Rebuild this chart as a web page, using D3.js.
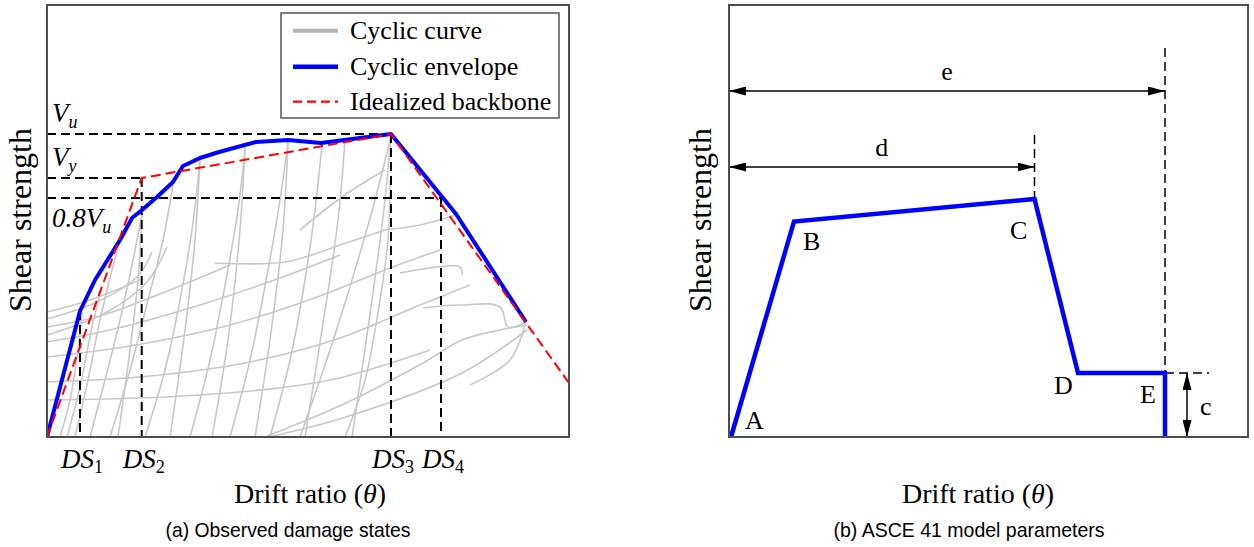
<!DOCTYPE html>
<html><head><meta charset="utf-8">
<script src="https://cdn.jsdelivr.net/npm/d3@7"></script>
<style>body{margin:0;background:#fff} svg{display:block}</style>
</head><body>
<svg id="c" width="1254" height="547"></svg>
<script>
// ---------- DATA (drift ratio in %, shear strength in kN) ----------
const envelope = [[0,0],[0.33,126],[0.48,157],[0.73,197],[0.85,219],[0.95,227],[1.10,240],[1.26,255],[1.36,271],[1.53,279],[1.72,285],[2.09,295],[2.41,297],[2.74,294],[3.44,303],[4.09,223],[4.79,115]];
const backbone = [[0,0],[0.947,259],[3.44,303],[5.22,54]];
const dsNames = ["1","2","3","4"];
const dsDrift = [0.33,0.947,3.44,3.94];
const dsShear = [126,259,303,239];
const levelNames = ["u","y","u"];
const levelPrefix = ["V","V","0.8V"];
const levelValues = [303,259,239];
const levelEnds = [3.44,0.947,3.94];
const cyclicCurves = [
  [[0,55],[1.03,61],[2.03,75],[2.93,99],[3.73,132],[4.23,152]],
  [[0,80],[0.83,91],[1.83,112],[2.73,141],[3.43,169],[3.93,187]],
  [[0,95],[0.63,107],[1.53,132],[2.33,159],[2.93,182]],
  [[0,110],[0.53,121],[1.23,147],[1.83,172]],
  [[0,125],[0.43,137],[0.93,157]],
  [[0,118],[0.5,135],[0.9,160],[1.05,185]],
  [[0,102],[0.6,125],[1.0,155],[1.2,190]],
  [[0,37],[1.53,42],[2.83,57],[3.83,87]],
  [[0.13,0],[0.23,37],[0.31,87],[0.35,125]],
  [[0.2,0],[0.33,50],[0.45,110],[0.55,150]],
  [[0.28,0],[0.41,57],[0.53,117],[0.65,167],[0.73,197]],
  [[0.43,0],[0.58,57],[0.73,117],[0.86,177],[0.95,222]],
  [[0.63,0],[0.83,67],[1.01,137],[1.16,197],[1.26,252]],
  [[0.98,0],[1.18,67],[1.33,137],[1.45,207],[1.53,277]],
  [[1.43,0],[1.63,77],[1.79,157],[1.91,227],[1.98,287]],
  [[1.83,0],[2.03,77],[2.21,167],[2.33,237],[2.41,295]],
  [[2.23,0],[2.43,77],[2.58,157],[2.68,227],[2.75,292]],
  [[2.53,0],[2.83,87],[3.08,167],[3.28,237],[3.44,301]],
  [[2.98,0],[3.18,57],[3.33,137],[3.41,197],[3.43,257]],
  [[0.95,227],[0.91,157],[0.83,87],[0.71,0]],
  [[1.53,279],[1.48,197],[1.38,107],[1.23,0]],
  [[1.98,292],[1.93,207],[1.81,97],[1.65,0]],
  [[2.41,295],[2.36,207],[2.23,97],[2.08,0]],
  [[2.98,297],[2.91,217],[2.75,107],[2.58,0]],
  [[3.44,303],[3.38,237],[3.25,137],[3.05,0]],
  [[2.18,0],[2.99,34],[3.76,74],[4.15,97],[4.53,107],[4.80,112]],
  [[4.80,107],[4.15,64],[2.99,20],[2.22,0]],
  [[3.38,207],[3.73,212],[4.09,222]],
  [[1.68,174],[2.38,175],[2.99,194],[3.38,207]],
  [[3.38,267],[3.13,252],[2.88,235],[2.53,207]],
  [[3.53,164],[4.13,170],[4.15,162]],
  [[3.76,129],[4.13,132],[4.53,130],[4.61,110],[4.79,115]],
  [[4.79,115],[4.63,77],[4.23,52]]
];
const legendLabels = ["Cyclic curve","Cyclic envelope","Idealized backbone"];
// ASCE 41 model (panel b)
const modelNames = ["A","B","C","D","E"];
const modelPoints = [[0.02,0],[0.65,215.5],[3.055,238],[3.49,64],[4.36,64],[4.36,0]];
const paramE = 4.36, paramD = 3.055, paramC = 64;

// ---------- LAYOUT ----------
const svg = d3.select("#c");
const serif = "'Liberation Serif','Times New Roman',serif";
const sans = "'Liberation Sans',Arial,sans-serif";
const x = d3.scaleLinear().domain([0,5.22]).range([47,569]);
const y = d3.scaleLinear().domain([0,432]).range([437,5]);
const xR = d3.scaleLinear().domain([0,5.19]).range([729,1248]);
const yR = d3.scaleLinear().domain([0,432]).range([437,5]);
const line = d3.line().x(d=>x(d[0])).y(d=>y(d[1]));
const lineR = d3.line().x(d=>xR(d[0])).y(d=>yR(d[1]));

const defs = svg.append("defs");
defs.append("clipPath").attr("id","clipA")
  .append("rect").attr("x",47).attr("y",5).attr("width",522).attr("height",432);
defs.append("marker").attr("id","arr").attr("markerUnits","userSpaceOnUse")
  .attr("markerWidth",17).attr("markerHeight",9).attr("refX",17).attr("refY",4.5)
  .attr("orient","auto-start-reverse")
  .append("path").attr("d","M0,0L17,4.5L0,9Z").attr("fill","#000");

// ---------- PANEL A ----------
const gA = svg.append("g");
const plotA = gA.append("g").attr("clip-path","url(#clipA)");
plotA.selectAll("path.cyc").data(cyclicCurves).join("path").attr("class","cyc")
  .attr("d",d3.line().x(d=>x(d[0])).y(d=>y(d[1])).curve(d3.curveCatmullRom))
  .attr("fill","none").attr("stroke","#c8c8c8").attr("stroke-width",1.6);

levelValues.forEach((v,i)=>{
  plotA.append("line").attr("x1",x(0)).attr("x2",x(levelEnds[i])).attr("y1",y(v)).attr("y2",y(v))
    .attr("stroke","#000").attr("stroke-width",2).attr("stroke-dasharray","9,5");
});
dsDrift.forEach((d,i)=>{
  plotA.append("line").attr("x1",x(d)).attr("x2",x(d)).attr("y1",y(dsShear[i])).attr("y2",y(0))
    .attr("stroke","#000").attr("stroke-width",2).attr("stroke-dasharray","9,5");
});
plotA.append("path").attr("d",line(envelope)).attr("fill","none").attr("stroke","#0000ff")
  .attr("stroke-width",4).attr("stroke-linejoin","round");
plotA.append("path").attr("d",line(backbone)).attr("fill","none").attr("stroke","#ff0000")
  .attr("stroke-width",2).attr("stroke-dasharray","10,5");

gA.append("rect").attr("x",47).attr("y",5).attr("width",522).attr("height",432)
  .attr("fill","none").attr("stroke","#4d4d4d").attr("stroke-width",2);

const lvlY = [122,166,227];
levelPrefix.forEach((p,i)=>{
  const t = gA.append("text").attr("x",52).attr("y",lvlY[i]).attr("font-family",serif)
    .attr("font-size",27).attr("font-style","italic").attr("fill","#000");
  t.append("tspan").text(p);
  t.append("tspan").attr("dy",6).attr("font-size",18).text(levelNames[i]);
});
dsDrift.forEach((d,i)=>{
  const t = gA.append("text").attr("x",x(d)+2).attr("y",468).attr("text-anchor","middle")
    .attr("font-family",serif).attr("font-size",27).attr("fill","#000");
  t.append("tspan").attr("font-style","italic").text("DS");
  t.append("tspan").attr("dy",5).attr("font-size",18).text(dsNames[i]);
});

const lg = gA.append("g");
lg.append("rect").attr("x",281).attr("y",13).attr("width",278).attr("height",105)
  .attr("fill","#fff").attr("stroke","#555").attr("stroke-width",1.5);
const lgY = [30.7,66.7,101.7];
const lgStyle = [{c:"#b4b4b4",w:4,da:null},{c:"#0000ff",w:4.5,da:null},{c:"#ff0000",w:2.2,da:"9,5"}];
legendLabels.forEach((l,i)=>{
  lg.append("line").attr("x1",293).attr("x2",338).attr("y1",lgY[i]).attr("y2",lgY[i])
    .attr("stroke",lgStyle[i].c).attr("stroke-width",lgStyle[i].w).attr("stroke-dasharray",lgStyle[i].da);
  lg.append("text").attr("x",350).attr("y",lgY[i]+8).attr("font-family",serif).attr("font-size",26)
    .attr("fill","#000").text(l);
});

function drift(g,cx){
  const t = g.append("text").attr("x",cx).attr("y",503).attr("text-anchor","middle")
    .attr("font-family",serif).attr("font-size",28).attr("fill","#000");
  t.append("tspan").text("Drift ratio (");
  t.append("tspan").attr("font-style","italic").text("θ");
  t.append("tspan").text(")");
}
drift(gA,310);
gA.append("text").attr("transform","translate(31,220) rotate(-90)").attr("text-anchor","middle")
  .attr("font-family",serif).attr("font-size",32).attr("fill","#000").text("Shear strength");
gA.append("text").attr("x",288).attr("y",537).attr("text-anchor","middle").attr("font-family",sans)
  .attr("font-size",21).attr("textLength",245).attr("lengthAdjust","spacingAndGlyphs")
  .attr("fill","#000").text("(a) Observed damage states");

// ---------- PANEL B ----------
const gB = svg.append("g");
gB.append("line").attr("x1",xR(paramD)).attr("x2",xR(paramD)).attr("y1",yR(302)).attr("y2",yR(modelPoints[2][1]))
  .attr("stroke","#000").attr("stroke-width",1.5).attr("stroke-dasharray","9,5");
gB.append("line").attr("x1",xR(paramE)).attr("x2",xR(paramE)).attr("y1",yR(389)).attr("y2",yR(paramC))
  .attr("stroke","#000").attr("stroke-width",1.5).attr("stroke-dasharray","9,5");
gB.append("line").attr("x1",xR(paramE)).attr("x2",xR(4.8)).attr("y1",yR(paramC)).attr("y2",yR(paramC))
  .attr("stroke","#000").attr("stroke-width",1.5).attr("stroke-dasharray","9,5");
gB.append("path").attr("d",lineR(modelPoints)).attr("fill","none").attr("stroke","#0000ff")
  .attr("stroke-width",4.5).attr("stroke-linejoin","miter");
gB.append("line").attr("x1",xR(0)).attr("x2",xR(paramE)).attr("y1",yR(346)).attr("y2",yR(346))
  .attr("stroke","#000").attr("stroke-width",1.5).attr("marker-start","url(#arr)").attr("marker-end","url(#arr)");
gB.append("line").attr("x1",xR(0)).attr("x2",xR(paramD)).attr("y1",yR(270)).attr("y2",yR(270))
  .attr("stroke","#000").attr("stroke-width",1.5).attr("marker-start","url(#arr)").attr("marker-end","url(#arr)");
gB.append("line").attr("x1",xR(4.58)).attr("x2",xR(4.58)).attr("y1",yR(paramC)).attr("y2",yR(0))
  .attr("stroke","#000").attr("stroke-width",1.5).attr("marker-start","url(#arr)").attr("marker-end","url(#arr)");
gB.append("rect").attr("x",729).attr("y",5).attr("width",519).attr("height",432)
  .attr("fill","none").attr("stroke","#4d4d4d").attr("stroke-width",2);
const lblOff = [[14,-8],[9,28.5],[-24.5,40],[-24,21],[-25,30]];
modelNames.forEach((n,i)=>{
  gB.append("text").attr("x",xR(modelPoints[i][0])+lblOff[i][0]).attr("y",yR(modelPoints[i][1])+lblOff[i][1])
    .attr("font-family",serif).attr("font-size",26).attr("fill","#000").text(n);
});
gB.append("text").attr("x",xR(paramE/2)).attr("y",yR(346)-10.7).attr("text-anchor","middle")
  .attr("font-family",serif).attr("font-size",26).text("e");
gB.append("text").attr("x",xR(paramD/2)).attr("y",yR(270)-10.7).attr("text-anchor","middle")
  .attr("font-family",serif).attr("font-size",26).text("d");
gB.append("text").attr("x",xR(4.58)+13).attr("y",yR(paramC/2)+10).attr("font-family",serif)
  .attr("font-size",26).text("c");
drift(gB,978);
gB.append("text").attr("transform","translate(711,220) rotate(-90)").attr("text-anchor","middle")
  .attr("font-family",serif).attr("font-size",32).attr("fill","#000").text("Shear strength");
gB.append("text").attr("x",969).attr("y",537).attr("text-anchor","middle").attr("font-family",sans)
  .attr("font-size",21).attr("textLength",271).attr("lengthAdjust","spacingAndGlyphs")
  .attr("fill","#000").text("(b) ASCE 41 model parameters");
</script>
</body></html>
